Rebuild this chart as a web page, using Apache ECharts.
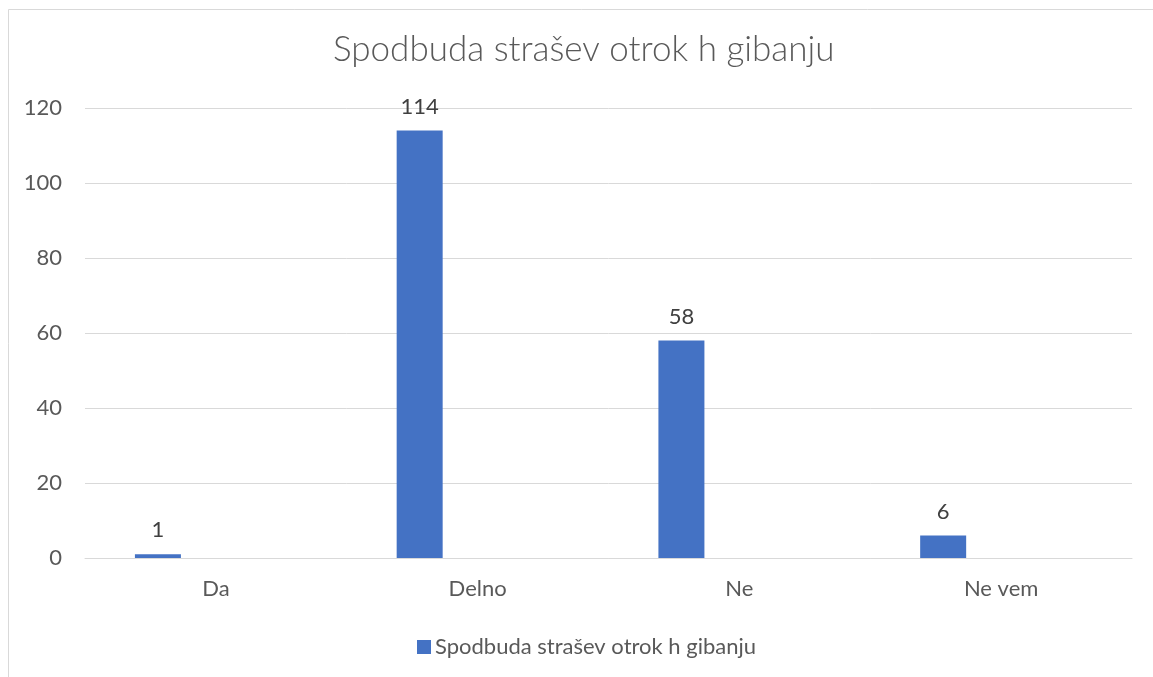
<!DOCTYPE html>
<html>
<head>
<meta charset="utf-8">
<script src="https://cdn.jsdelivr.net/npm/echarts@6/dist/echarts.min.js"></script>
<style>
html,body{margin:0;padding:0;background:#fff;}
#chart{width:1153px;height:677px;}
</style>
</head>
<body>
<div id="chart"></div>
<script>
const titleText = 'Spodbuda strašev otrok h gibanju';
const categories = ['Da', 'Delno', 'Ne', 'Ne vem'];
const seriesName = 'Spodbuda strašev otrok h gibanju';
const values = [1, 114, 58, 6];
const emptyValues = [null, null, null, null];
const yTicks = { min: 0, max: 120, interval: 20 };

const FONT = 'Lato';
const TXT = '#595959';
const chart = echarts.init(document.getElementById('chart'), null, { renderer: 'canvas' });
chart.setOption({
  animation: false,
  backgroundColor: '#fff',
  graphic: [{
    type: 'rect',
    shape: { x: 8.5, y: 9.5, width: 1400, height: 1000 },
    style: { fill: 'none', stroke: '#d9d9d9', lineWidth: 1 },
    silent: true, z: -1
  }],
  title: {
    text: titleText,
    left: 333,
    top: 32,
    padding: 0,
    textStyle: { fontFamily: FONT, fontSize: 35, fontWeight: 300, color: TXT }
  },
  legend: {
    data: [seriesName],
    top: 631,
    left: 412,
    itemWidth: 14,
    itemHeight: 14,
    itemGap: 6,
    icon: 'rect',
    textStyle: { fontFamily: FONT, fontSize: 22, color: TXT, padding: [0, 0, 0, -1] }
  },
  grid: { left: 85, right: 21, top: 108, bottom: 119, containLabel: false },
  xAxis: {
    type: 'category',
    data: categories,
    axisLine: { show: true, lineStyle: { color: '#d9d9d9', width: 1 } },
    axisTick: { show: false },
    axisLabel: { fontFamily: FONT, fontSize: 22, color: TXT, margin: 20 }
  },
  yAxis: {
    type: 'value',
    min: yTicks.min, max: yTicks.max, interval: yTicks.interval,
    axisLine: { show: false },
    axisTick: { show: false },
    splitLine: { lineStyle: { color: '#d9d9d9', width: 1 } },
    axisLabel: { fontFamily: FONT, fontSize: 22, color: TXT, margin: 23 }
  },
  series: [{
    name: seriesName,
    type: 'bar',
    data: values,
    barWidth: 46,
    barGap: '152%',
    itemStyle: { color: '#4472C4' },
    label: { show: true, position: 'top', distance: 13, fontFamily: FONT, fontSize: 22, color: '#404040' }
  }, {
    name: 'empty',
    type: 'bar',
    data: emptyValues,
    barWidth: 46,
    itemStyle: { color: '#ED7D31' }
  }]
});
</script>
</body>
</html>
